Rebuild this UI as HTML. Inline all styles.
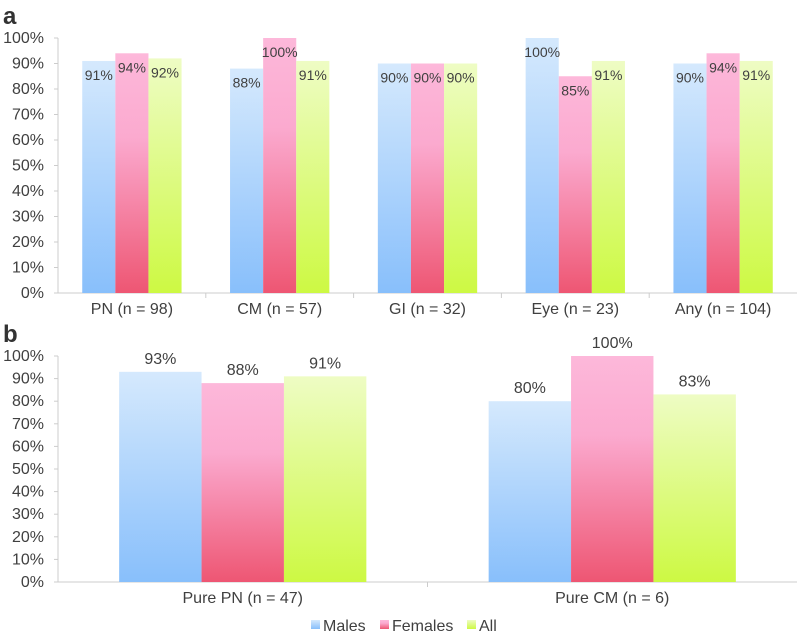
<!DOCTYPE html>
<html><head><meta charset="utf-8"><style>
body{margin:0;background:#fff;}
svg{display:block;font-family:"Liberation Sans",sans-serif;}
</style></head><body>
<svg id="chart" width="797" height="637">
<defs>
<linearGradient id="gM" x1="0" y1="0" x2="0" y2="1"><stop offset="0" stop-color="#d5e9fd"/><stop offset="1" stop-color="#88bffb"/></linearGradient>
<linearGradient id="gF" x1="0" y1="0" x2="0" y2="1"><stop offset="0" stop-color="#fdb8da"/><stop offset="0.35" stop-color="#fbaacf"/><stop offset="1" stop-color="#ee5673"/></linearGradient>
<linearGradient id="gA" x1="0" y1="0" x2="0" y2="1"><stop offset="0" stop-color="#eefcc4"/><stop offset="1" stop-color="#cdf943"/></linearGradient>
</defs>
</svg>
<script>
const catsA=["PN (n = 98)","CM (n = 57)","GI (n = 32)","Eye (n = 23)","Any (n = 104)"];
const malesA=[91,88,90,100,90];
const femalesA=[94,100,90,85,94];
const allA=[92,91,90,91,91];
const catsB=["Pure PN (n = 47)","Pure CM (n = 6)"];
const malesB=[93,80];
const femalesB=[88,100];
const allB=[91,83];
const ticks=[0,10,20,30,40,50,60,70,80,90,100];
const seriesNames=["Males","Females","All"];
const fills=["url(#gM)","url(#gF)","url(#gA)"];
const svg=document.getElementById('chart');
const NS="http://www.w3.org/2000/svg";
function mk(tag,attrs,txt){const e=document.createElementNS(NS,tag);for(const k in attrs)e.setAttribute(k,attrs[k]);if(txt!==undefined)e.textContent=txt;svg.appendChild(e);return e;}
function panel(letter,ly,top,bot,cats,series,barFrac,inside){
  const x0=58,x1=797;
  const y=v=>bot-(bot-top)*v/100;
  let t=mk('text',{x:3,y:ly,'font-size':24,'font-weight':'bold',fill:'#333'},letter);
  
  
  let ax=mk('line',{x1:x0,y1:top,x2:x0,y2:bot,stroke:'#ccc'});
  
  
  ticks.forEach(v=>{
    mk('line',{x1:x0-4,y1:y(v),x2:x0,y2:y(v),stroke:'#ccc'});
    let tl=mk('text',{x:44,y:y(v)+5,'font-size':16,fill:'#404040','text-anchor':'end'},v+'%');
    
    
  });
  let bx=mk('line',{x1:x0,y1:bot,x2:x1,y2:bot,stroke:'#ccc'});
  
  
  const cw=(x1-x0)/cats.length;
  const bw=cw*barFrac;
  cats.forEach((c,i)=>{
    if(i>0)mk('line',{x1:x0+cw*i,y1:bot,x2:x0+cw*i,y2:bot+5,stroke:'#ccc'});
    const cx=x0+cw*(i+0.5);
    let xl=mk('text',{x:cx,y:bot+21,'font-size':16,fill:'#404040','text-anchor':'middle'},c);
    
    
    series.forEach((s,j)=>{
      const v=s[i];
      const bx0=cx-1.5*bw+j*bw;
      let r=mk('rect',{x:bx0,y:y(v),width:bw,height:bot-y(v),fill:fills[j]});
      
      
      let ly2=inside?y(v)+19:y(v)-8;
      let vl=mk('text',{x:bx0+bw/2,y:ly2,'font-size':inside?14:16,fill:'#404040','text-anchor':'middle'},v+'%');
      
      
    });
  });
}
panel('a',24,38,293,catsA,[malesA,femalesA,allA],0.224,true);
panel('b',342,356,582,catsB,[malesB,femalesB,allB],0.223,false);
// legend
const lx=[311,380,467];
seriesNames.forEach((n,j)=>{
  let sq=mk('rect',{x:lx[j],y:620,width:9,height:9,fill:fills[j]});
  
  
  let lt=mk('text',{x:lx[j]+12,y:631,'font-size':16,fill:'#404040'},n);
  
  
});
</script>
</body></html>
